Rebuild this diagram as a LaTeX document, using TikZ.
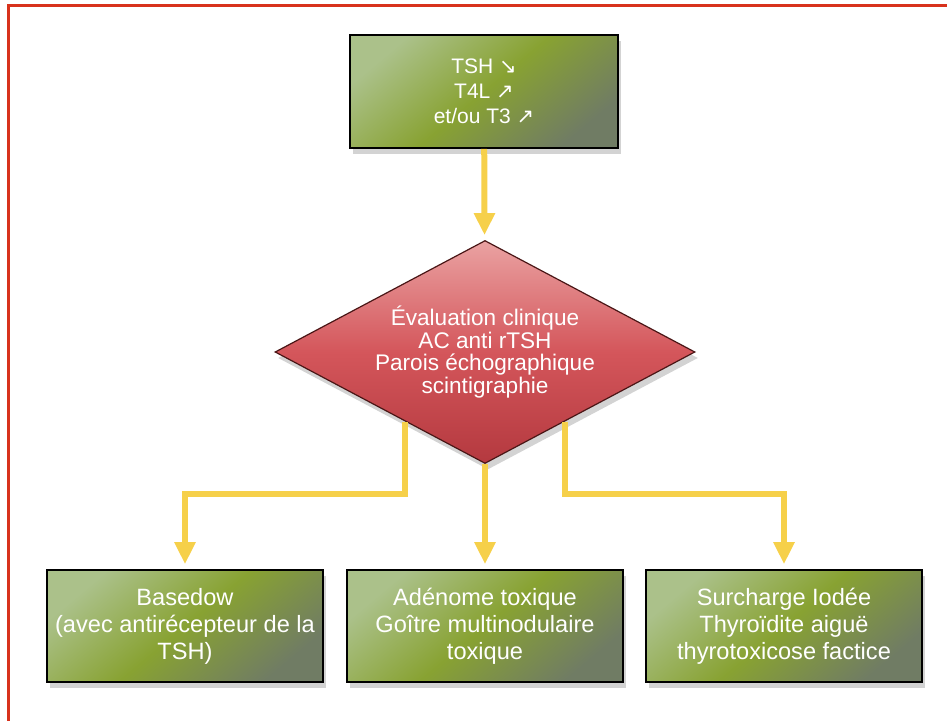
\documentclass[tikz,border=0pt]{standalone}
\usepackage{fontspec}
\setmainfont{Liberation Sans}
\newfontfamily\symfont{DejaVu Sans}
\usetikzlibrary{arrows.meta,positioning,shapes.geometric,calc,shadows}
\definecolor{Frame}{HTML}{D8321C}
\definecolor{Flow}{HTML}{F6D04A}
\definecolor{GreenLight}{HTML}{ABC18A}
\definecolor{GreenOlive}{HTML}{88A232}
\definecolor{GreenGrey}{HTML}{707C64}
\definecolor{RedLight}{HTML}{EAA2A2}
\definecolor{RedMid}{HTML}{D4565B}
\definecolor{RedDark}{HTML}{B4393F}
\definecolor{RedEdge}{HTML}{4A1616}

\begin{document}
\begin{tikzpicture}[x=0.5pt,y=-0.5pt,
  box/.style={draw=black,line width=0.8pt,top color=GreenLight,bottom color=GreenGrey,middle color=GreenOlive,shading angle=40,minimum width=138pt,minimum height=56pt,inner sep=2pt,align=center,text=white,font=\fontsize{11.8}{13.5}\selectfont,drop shadow={opacity=0.35,shadow xshift=1.5pt,shadow yshift=-3pt}},
  decision/.style={diamond,aspect=1.9,draw=RedEdge,line width=0.6pt,top color=RedLight,bottom color=RedDark,middle color=RedMid,minimum width=210pt,minimum height=111.5pt,inner sep=0pt,align=center,text=white,font=\fontsize{11.3}{11.4}\selectfont,drop shadow={opacity=0.35,shadow xshift=1.5pt,shadow yshift=-3pt}},
  flow/.style={draw=Flow,line width=3pt,-{Triangle[width=10pt,length=11pt]},shorten >=2.5pt},
  frame/.style={draw=Frame,line width=1.5pt}
]
\useasboundingbox (0,0) rectangle (947,721);
\draw[frame] (8,721) -- (8,5.5) -- (947,5.5);

\node[box,minimum width=134pt,minimum height=56.5pt,font=\fontsize{10.5}{12.5}\selectfont] (lab) at (484,91.5) {TSH {\symfont ↘}\\T4L {\symfont ↗}\\et/ou T3 {\symfont ↗}};
\node[decision] (eval) at (485,352) {Évaluation clinique\\AC anti rTSH\\Parois échographique\\scintigraphie};
\node[box] (basedow) at (185,626) {Basedow\\(avec antirécepteur de la\\TSH)};
\node[box] (adenome) at (485,626) {Adénome toxique\\Goître multinodulaire\\toxique};
\node[box] (iode) at (784,626) {Surcharge Iodée\\Thyroïdite aiguë\\thyrotoxicose factice};

\coordinate (ls) at ($(eval.south)!0.38!(eval.west)$);
\coordinate (rs) at ($(eval.south)!0.38!(eval.east)$);
\draw[flow] (lab) -- (eval);
\draw[flow] (eval) -- (adenome);
\draw[flow] (ls) -- ++(0,72) -| (basedow.north);
\draw[flow] (rs) -- ++(0,72) -| (iode.north);
\end{tikzpicture}
\end{document}
